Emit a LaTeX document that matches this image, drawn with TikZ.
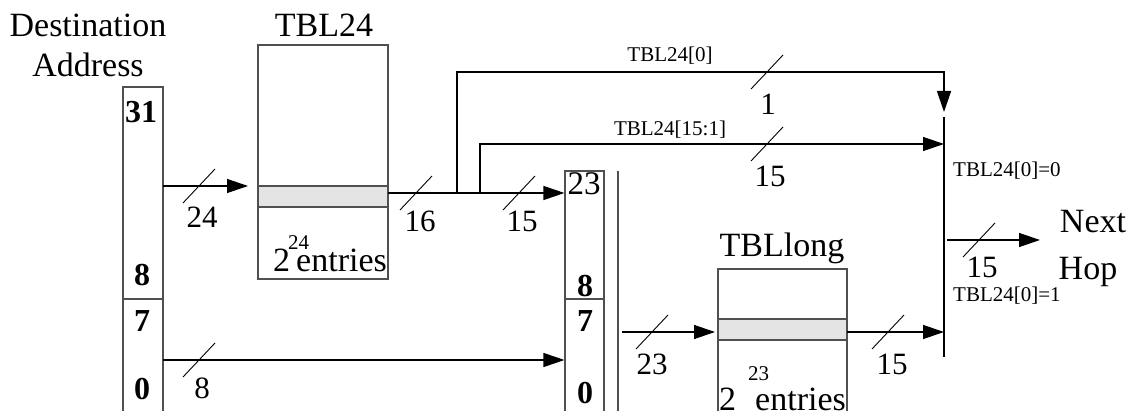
\documentclass[tikz,border=0pt]{standalone}
\usepackage{fontspec}
\setmainfont{Liberation Serif}
\usetikzlibrary{arrows.meta,calc}
\definecolor{boxgray}{HTML}{505050}
\definecolor{bandgray}{HTML}{E4E4E4}
\begin{document}
\begin{tikzpicture}[x=1pt,y=-1pt,
  box/.style={draw=boxgray,line width=1.3pt,fill=white,inner sep=0pt,outer sep=0pt},
  band/.style={box,fill=bandgray},
  lblbig/.style={font=\fontsize{34}{40}\selectfont,inner sep=0pt},
  lblnum/.style={font=\fontsize{31}{36}\selectfont,inner sep=0pt,anchor=base},
  lblreg/.style={font=\fontsize{32}{36}\selectfont\bfseries,inner sep=0pt,anchor=base},
  lblsmall/.style={font=\fontsize{21}{25}\selectfont,inner sep=0pt},
  arr/.style={line width=1.3pt,-{Triangle[length=21pt,width=14pt]}},
  wire/.style={line width=1.3pt},
  bus/.pic={\draw[line width=0.9pt] (-16,17) -- (16,-17);}
]
\useasboundingbox (0,0) rectangle (1130,411);
\clip (0,0) rectangle (1130,411);

% boxes
\node[box,minimum width=40pt,minimum height=212pt] (addrhi) at (143,193) {};
\node[box,minimum width=40pt,minimum height=122pt] (addrlo) at (143,360) {};
\node[box,minimum width=130pt,minimum height=234pt] (tbl24) at (323,162) {};
\node[band,minimum width=130pt,minimum height=21pt] (band24) at (323,196.5) {};
\node[box,minimum width=39pt,minimum height=128pt] (reg2hi) at (584.5,235) {};
\node[box,minimum width=39pt,minimum height=122pt] (reg2lo) at (584.5,360) {};
\node[box,minimum width=129pt,minimum height=152pt] (tbll) at (782.5,345) {};
\node[band,minimum width=129pt,minimum height=21pt] (bandl) at (782.5,329.5) {};

\coordinate (septop) at (618,171);
\coordinate (sepbot) at (618,421);
\draw[draw=boxgray,line width=1.3pt] (septop) -- (sepbot);

\coordinate (muxtop) at (944,117);
\coordinate (muxbot) at (944,357);
\draw[wire] (muxtop) -- (muxbot);

% titles
\node[lblbig,anchor=base] (dest1) at (88,37) {Destination};
\node[lblbig,anchor=base] (dest2) at (88,77) {Address};
\node[lblbig,anchor=base] (t24) at (324,37) {TBL24};
\node[lblbig,anchor=base] (tlong) at (782,257) {TBLlong};
\node[lblbig,anchor=base] (next) at (1093,233) {Next};
\node[lblbig,anchor=base] (hop) at (1088,280) {Hop};

% register digits
\node[lblreg] (r31) at (141,123) {31};
\node[lblreg] (r8) at (142,286) {8};
\node[lblreg] (r7) at (142,332) {7};
\node[lblreg] (r0) at (142,400) {0};
\node[lblnum,font=\fontsize{33}{36}\selectfont] (q23) at (584,195) {23};
\node[lblreg] (q8) at (585,297) {8};
\node[lblreg] (q7) at (585,332) {7};
\node[lblreg] (q0) at (585,404) {0};

% entries
\node[lblbig,anchor=base west] (e24) at (273,272) {2\kern-2pt\rlap{\raisebox{22pt}{\fontsize{21}{21}\selectfont 24}}\kern8pt entries};
\node[lblbig,anchor=base west] (e23) at (719,411) {2\kern12pt\rlap{\raisebox{30pt}{\fontsize{21}{21}\selectfont 23}}\kern7pt entries};

% connectors
\draw[arr,shorten >=10pt] (addrhi.east |- band24.north) -- (band24.north west);
\coordinate (o24) at (388,193);
\draw[arr,shorten >=0.6pt] (o24) -- (o24 -| reg2hi.west);
\coordinate (b1) at (457,193);
\coordinate (m1) at (944,72);
\draw[arr,shorten >=5pt] (b1) |- (m1) -- (muxtop);
\coordinate (b2) at (480,193);
\coordinate (m2) at (944,144);
\draw[arr] (b2) |- (m2);
\draw[arr,shorten >=0.6pt] (addrlo.east) -- (reg2lo.west);
\coordinate (s4) at (622,332);
\draw[arr,shorten >=3pt] (s4) -- (s4 -| bandl.west);
\draw[arr] (s4 -| bandl.east) -- (s4 -| muxtop);
\coordinate (o6) at (947,240);
\coordinate (nh) at (1040,240);
\draw[arr] (o6) -- (nh);

% bus width marks
\pic at (199,186) {bus};
\pic at (199,360) {bus};
\pic at (416,193) {bus};
\pic at (519,193) {bus};
\pic at (767,72) {bus};
\pic at (767,144) {bus};
\pic at (652,332) {bus};
\pic at (888,332) {bus};
\pic at (979,240) {bus};

\node[lblnum] (l24) at (202,228) {24};
\node[lblnum] (l8) at (202,399) {8};
\node[lblnum] (l16) at (420,232) {16};
\node[lblnum] (l15a) at (522,232) {15};
\node[lblnum] (l1) at (768,115) {1};
\node[lblnum] (l15b) at (770,187) {15};
\node[lblnum] (l23) at (652,375) {23};
\node[lblnum] (l15c) at (892,375) {15};
\node[lblnum] (l15d) at (982,278) {15};

% small labels
\node[lblsmall,anchor=base] (sm1) at (670,62) {TBL24[0]};
\node[lblsmall,anchor=base] (sm2) at (670,136) {TBL24[15:1]};
\node[lblsmall,anchor=base west] (sm3) at (953,177) {TBL24[0]=0};
\node[lblsmall,anchor=base west] (sm4) at (953,302) {TBL24[0]=1};
\end{tikzpicture}
\end{document}
